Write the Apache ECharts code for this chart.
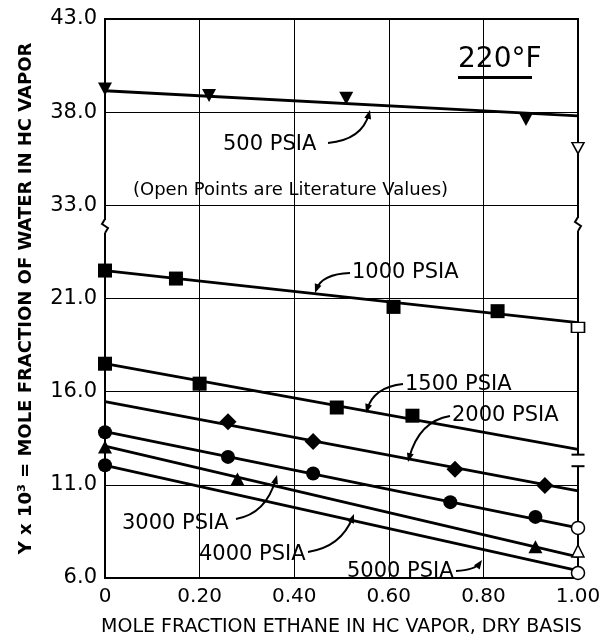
<!DOCTYPE html>
<html>
<head>
<meta charset="utf-8">
<script src="https://cdn.jsdelivr.net/npm/echarts@6/dist/echarts.min.js"></script>
<style>html,body{margin:0;padding:0;background:#fff}#c{width:613px;height:642px}</style>
</head>
<body>
<div id="c"></div>
<script>
// ---- data (real y values, x = mole fraction ethane) ----
const xTickLabels = ['0', '0.20', '0.40', '0.60', '0.80', '1.00'];
const yTickLabels = ['6.0', '11.0', '16.0', '21.0', '33.0', '38.0', '43.0'];

const lineX = [0, 1];
const line500 = [39.15, 37.80];
const line1000 = [22.50, 19.70];
const line1500 = [17.50, 12.90];
const line2000 = [15.47, 10.67];
const line3000 = [13.86, 8.69];
const line4000 = [13.08, 7.13];
const line5000 = [12.05, 6.39];

const pts500x = [0, 0.22, 0.51, 0.89];
const pts500y = [39.25, 38.90, 38.75, 37.60];
const pts1000x = [0, 0.15, 0.61, 0.83];
const pts1000y = [22.50, 22.07, 20.55, 20.32];
const pts1500x = [0, 0.20, 0.49, 0.65];
const pts1500y = [17.50, 16.43, 15.15, 14.71];
const pts2000x = [0.26, 0.44, 0.74, 0.93];
const pts2000y = [14.39, 13.33, 11.83, 10.96];
const pts3000x = [0, 0.26, 0.44, 0.73, 0.91];
const pts3000y = [13.82, 12.50, 11.61, 10.07, 9.28];
const pts4000x = [0, 0.28, 0.91];
const pts4000y = [13.03, 11.31, 7.68];
const pts5000x = [0];
const pts5000y = [12.05];

// literature (open) values at x = 1.00
const lit500 = 36.07;
const lit1000 = 19.45;
const lit2000Range = [12.00, 12.62];
const lit3000 = 8.69;
const lit4000 = 7.45;
const lit5000 = 6.27;

// broken axis: lower segment 6..21+ , upper segment 33..43
function toAxis(v) { return v >= 27 ? v - 13 : v - 6; }
function pairs(xs, ys) { return xs.map((x, i) => [x, toAxis(ys[i])]); }

const FONT = 'DejaVu Sans';
const BLACK = '#000';

function lineSeries(ys) {
  return { type: 'line', data: pairs(lineX, ys), showSymbol: false, silent: true,
    lineStyle: { color: BLACK, width: 2.8 }, z: 3, clip: false };
}
function markSeries(xs, ys, symbol, size, rotate) {
  return { type: 'scatter', data: pairs(xs, ys), symbol: symbol, symbolSize: size,
    symbolRotate: rotate || 0, itemStyle: { color: BLACK, opacity: 1 }, z: 4, clip: false };
}
function openSeries(y, symbol, size, rotate) {
  return { type: 'scatter', data: [[1, toAxis(y)]], symbol: symbol, symbolSize: size,
    symbolRotate: rotate || 0, itemStyle: { color: '#fff', borderColor: BLACK, borderWidth: 1.5, opacity: 1 },
    z: 5, clip: false };
}

// annotation helpers (layout only)
function arrow(sx, sy, cx, cy, ex, ey) {
  let dx = ex - cx, dy = ey - cy; const L = Math.hypot(dx, dy); dx /= L; dy /= L;
  const nx = -dy, ny = dx, len = 9, hw = 3.5;
  return [
    { type: 'bezierCurve', shape: { x1: sx, y1: sy, cpx1: cx, cpy1: cy, x2: ex - dx * 4, y2: ey - dy * 4 },
      style: { stroke: BLACK, lineWidth: 2, fill: null }, z: 10 },
    { type: 'polygon', shape: { points: [[ex, ey], [ex - dx * len + nx * hw, ey - dy * len + ny * hw], [ex - dx * len - nx * hw, ey - dy * len - ny * hw]] },
      style: { fill: BLACK }, z: 10 }
  ];
}
function label(x, y, text, size) {
  return { type: 'text', x: x, y: y, z: 10,
    style: { text: text, font: (size || 21) + 'px "' + FONT + '"', fill: BLACK, textVerticalAlign: 'middle', textAlign: 'left' } };
}
function breakMark(x, y) {
  return [
    { type: 'rect', shape: { x: x - 5, y: y - 6, width: 10, height: 13 }, style: { fill: '#fff' }, z: 20 },
    { type: 'polyline', shape: { points: [[x, y - 7], [x - 3, y - 2], [x + 3, y + 2], [x, y + 7]] },
      style: { stroke: BLACK, lineWidth: 2, fill: null }, z: 21 }
  ];
}

const chart = echarts.init(document.getElementById('c'), null, { renderer: 'canvas' });

const graphics = [].concat(
  label(223, 145, '500 PSIA'), arrow(328, 143, 362, 140, 370, 110),
  label(133, 190, '(Open Points are Literature Values)', 18),
  label(352, 273, '1000 PSIA'), arrow(350, 273, 322, 274, 315, 293),
  label(405, 385, '1500 PSIA'), arrow(403, 384, 374, 387, 366, 413),
  label(452, 416, '2000 PSIA'), arrow(450, 416, 419, 421, 408, 462),
  label(122, 524, '3000 PSIA'), arrow(236, 519, 266, 514, 277, 475),
  label(199, 555, '4000 PSIA'), arrow(308, 552, 341, 547, 354, 514),
  label(347, 572, '5000 PSIA'), arrow(456, 571, 475, 570, 482, 560),
  [{ type: 'text', x: 458, y: 60, z: 10,
     style: { text: '220°F', font: '28px "' + FONT + '"', fill: BLACK, textVerticalAlign: 'middle' } },
   { type: 'rect', shape: { x: 458, y: 76, width: 74, height: 3 }, style: { fill: BLACK }, z: 10 }],
  breakMark(105, 226), breakMark(578, 224)
);

const option = {
  animation: false,
  backgroundColor: '#fff',
  grid: { left: 105, right: 35, top: 19, bottom: 58, show: true, borderColor: BLACK, borderWidth: 2, backgroundColor: 'transparent' },
  xAxis: {
    type: 'value', min: 0, max: 1, interval: 0.2,
    axisLine: { show: false }, axisTick: { show: false },
    splitLine: { show: true, lineStyle: { color: BLACK, width: 1 } },
    axisLabel: { color: BLACK, fontFamily: FONT, fontSize: 20, margin: 9,
      formatter: v => xTickLabels[Math.round(v / 0.2)] },
    name: 'MOLE FRACTION ETHANE IN HC VAPOR, DRY BASIS', nameLocation: 'middle', nameGap: 40,
    nameTextStyle: { color: BLACK, fontFamily: FONT, fontSize: 19 }
  },
  yAxis: {
    type: 'value', min: 0, max: 30, interval: 5,
    axisLine: { show: false }, axisTick: { show: false },
    splitLine: { show: true, lineStyle: { color: BLACK, width: 1 } },
    axisLabel: { color: BLACK, fontFamily: FONT, fontSize: 21, margin: 8,
      formatter: v => yTickLabels[Math.round(v / 5)] },
    name: 'Y x 10³ = MOLE FRACTION OF WATER IN HC VAPOR', nameLocation: 'middle', nameGap: 70,
    nameTextStyle: { color: BLACK, fontFamily: FONT, fontSize: 18, fontWeight: 'bold' }
  },
  series: [
    lineSeries(line500), lineSeries(line1000), lineSeries(line1500), lineSeries(line2000),
    lineSeries(line3000), lineSeries(line4000), lineSeries(line5000),
    markSeries(pts500x, pts500y, 'triangle', [14, 13], 180),
    markSeries(pts1000x, pts1000y, 'rect', 14),
    markSeries(pts1500x, pts1500y, 'rect', 14),
    markSeries(pts2000x, pts2000y, 'diamond', 17),
    markSeries(pts3000x, pts3000y, 'circle', 14),
    markSeries(pts4000x, pts4000y, 'triangle', [14, 13]),
    markSeries(pts5000x, pts5000y, 'circle', 14),
    openSeries(lit500, 'triangle', [12, 11], 180),
    openSeries(lit1000, 'rect', [13, 10]),
    openSeries(lit3000, 'circle', 13),
    openSeries(lit4000, 'triangle', [12, 12]),
    openSeries(lit5000, 'circle', 13),
    {
      type: 'custom', z: 6, clip: false,
      data: [[1, toAxis(lit2000Range[0]), toAxis(lit2000Range[1])]],
      renderItem: function (params, api) {
        const lo = api.coord([api.value(0), api.value(1)]);
        const hi = api.coord([api.value(0), api.value(2)]);
        const hw = 6.5;
        return { type: 'group', children: [
          { type: 'rect', shape: { x: lo[0] - 2, y: hi[1], width: 4, height: lo[1] - hi[1] }, style: { fill: '#fff' } },
          { type: 'line', shape: { x1: hi[0] - hw, y1: hi[1], x2: hi[0] + hw, y2: hi[1] }, style: { stroke: BLACK, lineWidth: 2 } },
          { type: 'line', shape: { x1: lo[0] - hw, y1: lo[1], x2: lo[0] + hw, y2: lo[1] }, style: { stroke: BLACK, lineWidth: 2 } }
        ] };
      }
    }
  ],
  graphic: graphics
};
chart.setOption(option);
</script>
</body>
</html>
